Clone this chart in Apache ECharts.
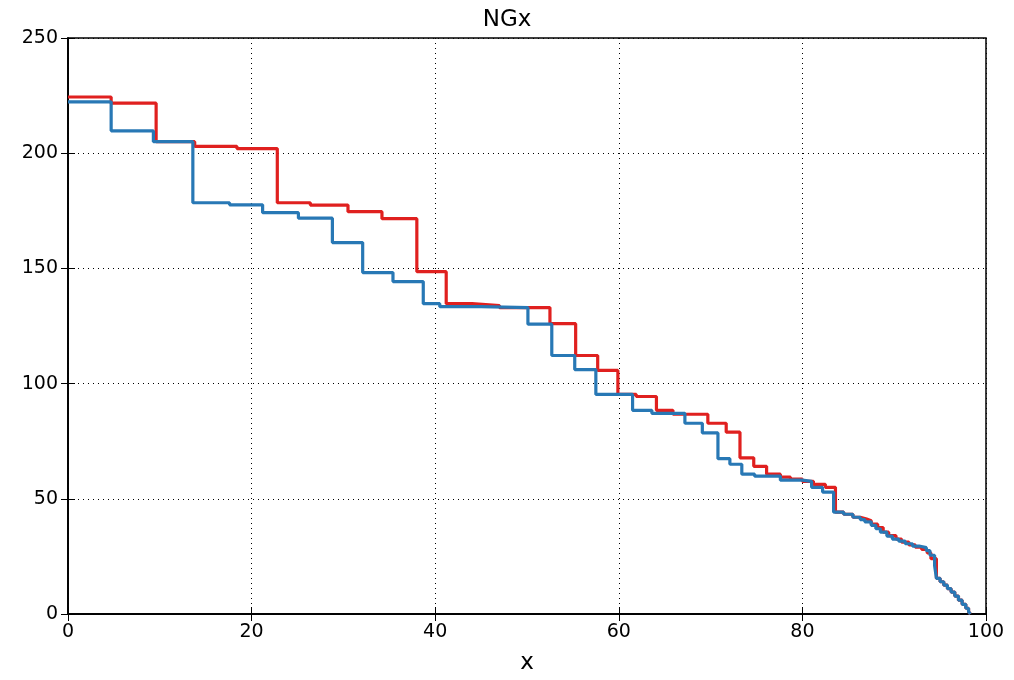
<!DOCTYPE html>
<html>
<head>
<meta charset="utf-8">
<script src="https://cdn.jsdelivr.net/npm/echarts@6/dist/echarts.min.js"></script>
<style>
  html, body { margin: 0; padding: 0; background: #fff; }
  #chart { width: 1014px; height: 680px; }
</style>
</head>
<body>
<div id="chart"></div>
<script>
// step curves: value y holds from x until the next x
const redX = [0, 4.7, 9.6, 13.8, 18.4, 22.8, 26.4, 30.5, 34.2, 38.0, 41.2, 44.0, 47, 52.5, 55.3, 57.7, 59.9, 61.9, 64.1, 65.9, 69.7, 71.7, 73.2, 74.7, 76.1, 77.6, 78.7, 80, 81.2, 82.5,
  83.6, 84.5, 85.5, 86.3, 87.0, 87.5, 88.2, 88.8, 89.4, 90.2, 90.8, 91.6, 92.3, 93.0, 93.6, 94.0, 94.6,
  95.0, 95.4, 95.8, 96.2, 96.6, 97.0, 97.4, 97.8, 98.1, 98.3]
const redY = [224.4, 221.7, 205, 203, 202, 178.5, 177.5, 174.6, 171.6, 148.6, 134.7, 133.9, 133, 126, 112.2, 105.7, 95.3, 94.4, 88.4, 86.7, 82.8, 78.9, 67.8, 64.1, 60.7, 59.4, 58.5, 57.6, 56.3, 55,
  44.2, 43.3, 42, 41.2, 40.5, 39, 37.5, 35.5, 34, 32.5, 31.2, 30, 29, 28, 26.5, 24, 15.5,
  14, 12.5, 11, 9.5, 7.8, 6, 4.2, 2.5, 1, 0]

const blueX = [0, 4.7, 9.3, 13.6, 17.6, 21.2, 25.1, 28.8, 32.1, 35.4, 38.7, 40.5, 45, 50.1, 52.7, 55.2, 57.5, 61.5, 63.6, 67.2, 69.1, 70.8, 72.1, 73.4, 74.8, 77.6, 80, 81, 82.2,
  83.4, 84.5, 85.5, 86.3, 86.8, 87.5, 88, 88.5, 89.2, 89.8, 90.5, 91.2, 92, 92.7, 93.5, 93.9, 94.4, 94.6,
  95.0, 95.4, 95.8, 96.2, 96.6, 97.0, 97.4, 97.8, 98.1, 98.3]
const blueY = [222.3, 209.7, 205, 178.5, 177.6, 174.2, 171.8, 161.2, 148.2, 144.3, 134.7, 133.4, 133, 125.8, 112.2, 106.1, 95.3, 88.4, 87.1, 82.8, 78.6, 67.4, 65, 60.7, 59.8, 58.1, 57.6, 55, 52.9,
  44.2, 43.3, 42, 41, 40, 38.5, 37, 35.5, 33.8, 32.5, 31.6, 30.5, 29.5, 28.8, 27.5, 25.5, 21, 15.5,
  14, 12.5, 11, 9.5, 7.8, 6, 4.2, 2.5, 1, 0]

const xTicks = [0, 20, 40, 60, 80, 100]
const yTicks = [0, 50, 100, 150, 200, 250]

const font = 'DejaVu Sans'
const chart = echarts.init(document.getElementById('chart'))

const pairs = (xs, ys) => xs.map((x, i) => [x, ys[i]])

const frameAxis = {
  axisLine: { show: true, lineStyle: { color: '#000', width: 1.5 } },
  axisTick: { show: true, inside: true, length: 7, lineStyle: { color: '#000' } }
}

const option = {
  animation: false,
  title: {
    text: 'NGx',
    left: 'center',
    top: 4,
    textStyle: { fontFamily: font, fontSize: 23, fontWeight: 'normal', color: '#000' }
  },
  grid: {
    left: 68, right: 28, top: 38, bottom: 61,
    show: true, borderColor: '#000', borderWidth: 1.5
  },
  xAxis: [
    Object.assign({
      type: 'value', min: xTicks[0], max: xTicks[xTicks.length - 1], interval: xTicks[1] - xTicks[0],
      name: 'x', nameLocation: 'middle', nameGap: 38,
      nameTextStyle: { fontFamily: font, fontSize: 23, color: '#000' },
      axisLabel: { fontFamily: font, fontSize: 19, color: '#000', margin: 9 },
      splitLine: { show: true, lineStyle: { color: '#000', type: [1, 4], width: 1 } }
    }, frameAxis),
    Object.assign({
      type: 'value', min: xTicks[0], max: xTicks[xTicks.length - 1], interval: xTicks[1] - xTicks[0], position: 'top',
      axisLabel: { show: false },
      splitLine: { show: false }
    }, frameAxis)
  ],
  yAxis: [
    Object.assign({
      type: 'value', min: yTicks[0], max: yTicks[yTicks.length - 1], interval: yTicks[1] - yTicks[0],
      axisLabel: { fontFamily: font, fontSize: 19, color: '#000', margin: 10 },
      splitLine: { show: true, lineStyle: { color: '#000', type: [1, 4], width: 1 } }
    }, frameAxis),
    Object.assign({
      type: 'value', min: yTicks[0], max: yTicks[yTicks.length - 1], interval: yTicks[1] - yTicks[0], position: 'right',
      axisLabel: { show: false },
      splitLine: { show: false }
    }, frameAxis)
  ],
  series: [
    {
      type: 'line', step: 'end', showSymbol: false,
      data: pairs(redX, redY),
      lineStyle: { color: '#e0201f', width: 3.2 },
      itemStyle: { color: '#e0201f' }
    },
    {
      type: 'line', step: 'end', showSymbol: false,
      data: pairs(blueX, blueY),
      lineStyle: { color: '#2878b5', width: 3.2 },
      itemStyle: { color: '#2878b5' }
    }
  ]
}
chart.setOption(option)
window.addEventListener('resize', function() {
  chart.resize()
})
</script>
</body>
</html>
